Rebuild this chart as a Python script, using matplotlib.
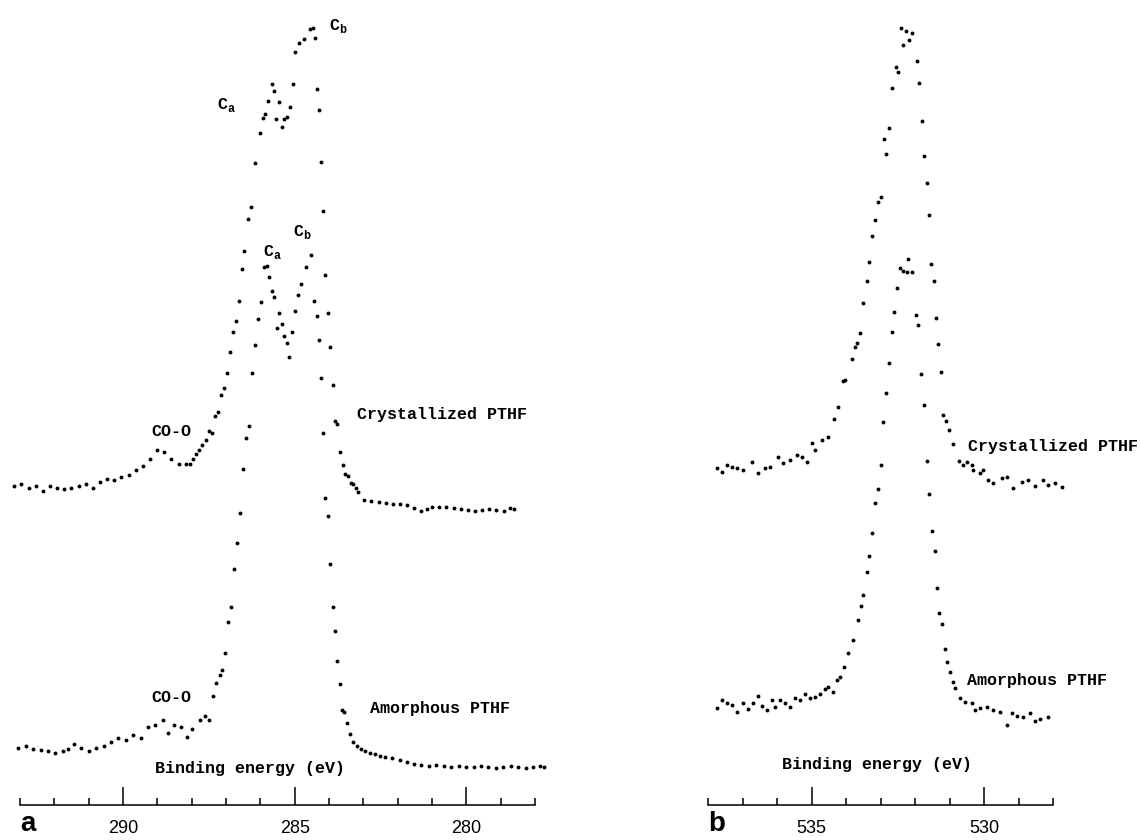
import matplotlib
matplotlib.use('Agg')
import matplotlib.pyplot as plt
from matplotlib.ticker import MultipleLocator

# ---- data (binding energy in eV, intensity in arbitrary units) ----
# panel a, C1s, crystallized PTHF
a_cryst_be = [293.17, 292.97, 292.74, 292.53, 292.33, 292.13, 291.92, 291.72, 291.51, 291.28,
              291.08, 290.87, 290.67, 290.47, 290.26, 290.06, 289.82, 289.62, 289.42, 289.21,
              289.01, 288.81, 288.60, 288.37, 288.16, 288.05, 287.96, 287.87, 287.79, 287.70,
              287.58, 287.49, 287.41, 287.32, 287.23, 287.14, 287.06, 286.97, 286.88, 286.80,
              286.71, 286.62, 286.53, 286.47, 286.36, 286.27, 286.15, 286.01, 285.92, 285.86,
              285.78, 285.66, 285.60, 285.54, 285.46, 285.37, 285.31, 285.22, 285.13, 285.05,
              284.99, 284.87, 284.73, 284.55, 284.46, 284.41, 284.35, 284.29, 284.23, 284.17,
              284.12, 284.03, 283.97, 283.88, 283.82, 283.77, 283.68, 283.59, 283.53, 283.45,
              283.36, 283.30, 283.21, 283.15, 282.98, 282.78, 282.54, 282.34, 282.13, 281.93,
              281.73, 281.52, 281.32, 281.14, 281.00, 280.79, 280.59, 280.36, 280.15, 279.95,
              279.75, 279.54, 279.34, 279.13, 278.90, 278.73, 278.61]
a_cryst_int = [319, 321, 317, 319, 314, 319, 317, 316, 317, 319,
               321, 317, 323, 326, 325, 328, 330, 335, 339, 346,
               355, 353, 346, 341, 341, 341, 346, 351, 355, 360,
               365, 374, 372, 389, 393, 410, 417, 432, 453, 473,
               484, 504, 536, 554, 586, 598, 642, 672, 687, 691,
               704, 721, 714, 686, 703, 678, 686, 688, 698, 721,
               753, 762, 766, 776, 777, 767, 716, 695, 643, 594,
               530, 492, 458, 420, 384, 381, 353, 340, 331, 329,
               322, 321, 317, 313, 305, 304, 303, 302, 301, 301,
               300, 297, 294, 296, 298, 298, 298, 297, 296, 295,
               294, 295, 296, 295, 294, 297, 296]

# panel a, C1s, amorphous PTHF
a_amor_be = [293.06, 292.83, 292.62, 292.39, 292.18, 291.98, 291.75, 291.60, 291.43, 291.22,
             290.99, 290.79, 290.55, 290.35, 290.15, 289.91, 289.71, 289.48, 289.27, 289.07,
             288.83, 288.69, 288.51, 288.31, 288.14, 287.99, 287.76, 287.61, 287.49, 287.38,
             287.29, 287.17, 287.12, 287.03, 286.94, 286.85, 286.77, 286.68, 286.59, 286.50,
             286.42, 286.33, 286.24, 286.15, 286.07, 285.98, 285.89, 285.80, 285.75, 285.66,
             285.60, 285.51, 285.46, 285.37, 285.31, 285.22, 285.16, 285.08, 284.99, 284.90,
             284.81, 284.67, 284.52, 284.44, 284.35, 284.29, 284.23, 284.17, 284.12, 284.03,
             283.97, 283.88, 283.82, 283.77, 283.68, 283.62, 283.56, 283.47, 283.39, 283.30,
             283.18, 283.07, 282.95, 282.80, 282.66, 282.51, 282.37, 282.16, 281.93, 281.73,
             281.52, 281.32, 281.09, 280.88, 280.65, 280.44, 280.21, 280.01, 279.77, 279.57,
             279.37, 279.13, 278.93, 278.70, 278.49, 278.26, 278.06, 277.85, 277.74]
a_amor_int = [57, 59, 56, 55, 54, 52, 54, 56, 61, 57,
              54, 57, 59, 63, 67, 65, 70, 67, 78, 80,
              85, 72, 80, 78, 68, 76, 85, 89, 85, 109,
              122, 130, 135, 152, 183, 198, 236, 262, 292, 336,
              367, 379, 432, 460, 486, 503, 538, 539, 528, 514,
              508, 477, 492, 481, 469, 462, 448, 473, 494, 510,
              521, 538, 550, 504, 489, 465, 427, 372, 307, 289,
              241, 198, 174, 144, 121, 95, 93, 82, 71, 63,
              59, 56, 54, 52, 51, 49, 48, 47, 45, 43,
              41, 40, 39, 40, 39, 38, 39, 38, 38, 39,
              38, 37, 38, 39, 38, 37, 38, 39, 38]

# panel b, O1s, crystallized PTHF
b_cryst_be = [537.74, 537.59, 537.45, 537.30, 537.16, 536.99, 536.72, 536.55, 536.35, 536.20,
              535.97, 535.83, 535.62, 535.42, 535.27, 535.13, 534.99, 534.90, 534.70, 534.52,
              534.35, 534.23, 534.09, 534.03, 533.83, 533.74, 533.68, 533.59, 533.51, 533.39,
              533.33, 533.25, 533.16, 533.07, 532.98, 532.90, 532.84, 532.75, 532.67, 532.55,
              532.49, 532.40, 532.35, 532.26, 532.17, 532.09, 531.94, 531.88, 531.80, 531.74,
              531.65, 531.59, 531.54, 531.45, 531.39, 531.33, 531.25, 531.19, 531.10, 531.01,
              530.90, 530.72, 530.61, 530.49, 530.35, 530.32, 530.11, 530.03, 529.88, 529.74,
              529.48, 529.33, 529.16, 528.90, 528.72, 528.52, 528.29, 528.14, 527.94, 527.74]
b_cryst_int = [337, 333, 340, 338, 337, 335, 343, 332, 337, 338,
               348, 342, 345, 350, 348, 343, 362, 355, 365, 368,
               386, 398, 424, 425, 446, 458, 462, 472, 502, 524,
               543, 569, 585, 603, 608, 666, 651, 677, 717, 738,
               733, 777, 760, 774, 765, 772, 744, 722, 684, 649,
               622, 590, 541, 524, 487, 461, 433, 390, 384, 375,
               361, 344, 340, 343, 340, 335, 332, 335, 325, 322,
               327, 328, 317, 323, 325, 319, 325, 320, 322, 318]

# panel b, O1s, amorphous PTHF
b_amor_be = [537.74, 537.59, 537.45, 537.30, 537.16, 536.99, 536.84, 536.70, 536.55, 536.43,
             536.29, 536.14, 536.06, 535.91, 535.77, 535.62, 535.48, 535.33, 535.19, 535.04,
             534.90, 534.75, 534.61, 534.52, 534.38, 534.26, 534.17, 534.06, 533.94, 533.80,
             533.65, 533.56, 533.51, 533.39, 533.33, 533.25, 533.16, 533.07, 532.98, 532.93,
             532.84, 532.75, 532.67, 532.61, 532.52, 532.43, 532.35, 532.23, 532.20, 532.09,
             531.97, 531.91, 531.83, 531.74, 531.65, 531.59, 531.51, 531.42, 531.36, 531.30,
             531.22, 531.13, 531.07, 530.98, 530.90, 530.84, 530.69, 530.55, 530.35, 530.26,
             530.11, 529.91, 529.74, 529.53, 529.33, 529.19, 529.04, 528.87, 528.67, 528.52,
             528.38, 528.14]
b_amor_int = [97, 105, 102, 100, 93, 102, 96, 102, 109, 99,
              95, 105, 98, 105, 102, 98, 107, 105, 111, 107,
              108, 111, 116, 118, 113, 125, 128, 138, 152, 165,
              185, 199, 210, 233, 249, 272, 302, 316, 340, 383,
              412, 442, 473, 493, 517, 537, 534, 533, 546, 533,
              490, 480, 431, 400, 344, 311, 274, 254, 217, 192,
              181, 156, 143, 133, 123, 117, 107, 103, 102, 95,
              97, 98, 95, 93, 80, 92, 89, 88, 92, 84,
              86, 88]

a_range = (293, 278)
b_range = (538, 528)
a_major = [290, 285, 280]
b_major = [535, 530]

plt.rcParams['font.family'] = ['Liberation Mono', 'DejaVu Sans Mono']

W, H = 1141, 840
fig = plt.figure(figsize=(W / 100, H / 100), dpi=100)
ax_a = fig.add_axes([20 / W, 35 / H, 515 / W, 805 / H])
ax_b = fig.add_axes([708 / W, 35 / H, 345 / W, 805 / H])


def style(ax, lim, majors):
    ax.set_xlim(*lim)
    ax.set_ylim(0, 805)
    ax.patch.set_alpha(0)
    for s in ['left', 'right', 'top']:
        ax.spines[s].set_visible(False)
    ax.spines['bottom'].set_linewidth(1.1)
    ax.set_yticks([])
    ax.set_xticks(majors)
    ax.set_xticklabels([str(m) for m in majors], fontfamily='Liberation Sans', fontsize=13)
    ax.xaxis.set_minor_locator(MultipleLocator(1))
    ax.tick_params(axis='x', which='major', direction='in', length=13, width=1.1, pad=11)
    ax.tick_params(axis='x', which='minor', direction='in', length=5, width=1.1)


style(ax_a, a_range, a_major)
style(ax_b, b_range, b_major)

dot = dict(linestyle='none', marker='o', ms=2.8, mew=0, color='black', clip_on=False)
ax_a.plot(a_cryst_be, a_cryst_int, **dot)
ax_a.plot(a_amor_be, a_amor_int, **dot)
ax_b.plot(b_cryst_be, b_cryst_int, **dot)
ax_b.plot(b_amor_be, b_amor_int, **dot)

txt = dict(fontsize=12, fontweight='bold', va='center')
ax_a.text(283.18, 390, 'Crystallized PTHF', ha='left', **txt)
ax_a.text(282.80, 96, 'Amorphous PTHF', ha='left', **txt)
ax_a.text(288.60, 374, 'CO-O', ha='center', **txt)
ax_a.text(288.60, 108, 'CO-O', ha='center', **txt)
ax_a.text(287.26, 700, r'C$_\mathregular{a}$', ha='left', **txt)
ax_a.text(284.00, 779, r'C$_\mathregular{b}$', ha='left', **txt)
ax_a.text(285.92, 553, r'C$_\mathregular{a}$', ha='left', **txt)
ax_a.text(285.05, 573, r'C$_\mathregular{b}$', ha='left', **txt)
ax_a.text(286.30, 37, 'Binding energy (eV)', ha='center', **txt)

ax_b.text(530.46, 358, 'Crystallized PTHF', ha='left', **txt)
ax_b.text(530.49, 125, 'Amorphous PTHF', ha='left', **txt)
ax_b.text(533.10, 40, 'Binding energy (eV)', ha='center', **txt)

ax_a.text(293.0, -26, 'a', fontfamily='Liberation Sans', fontweight='bold', fontsize=20,
          ha='left', va='baseline')
ax_b.text(538.0, -26, 'b', fontfamily='Liberation Sans', fontweight='bold', fontsize=20,
          ha='left', va='baseline')

fig.savefig('out.png', dpi=100)
